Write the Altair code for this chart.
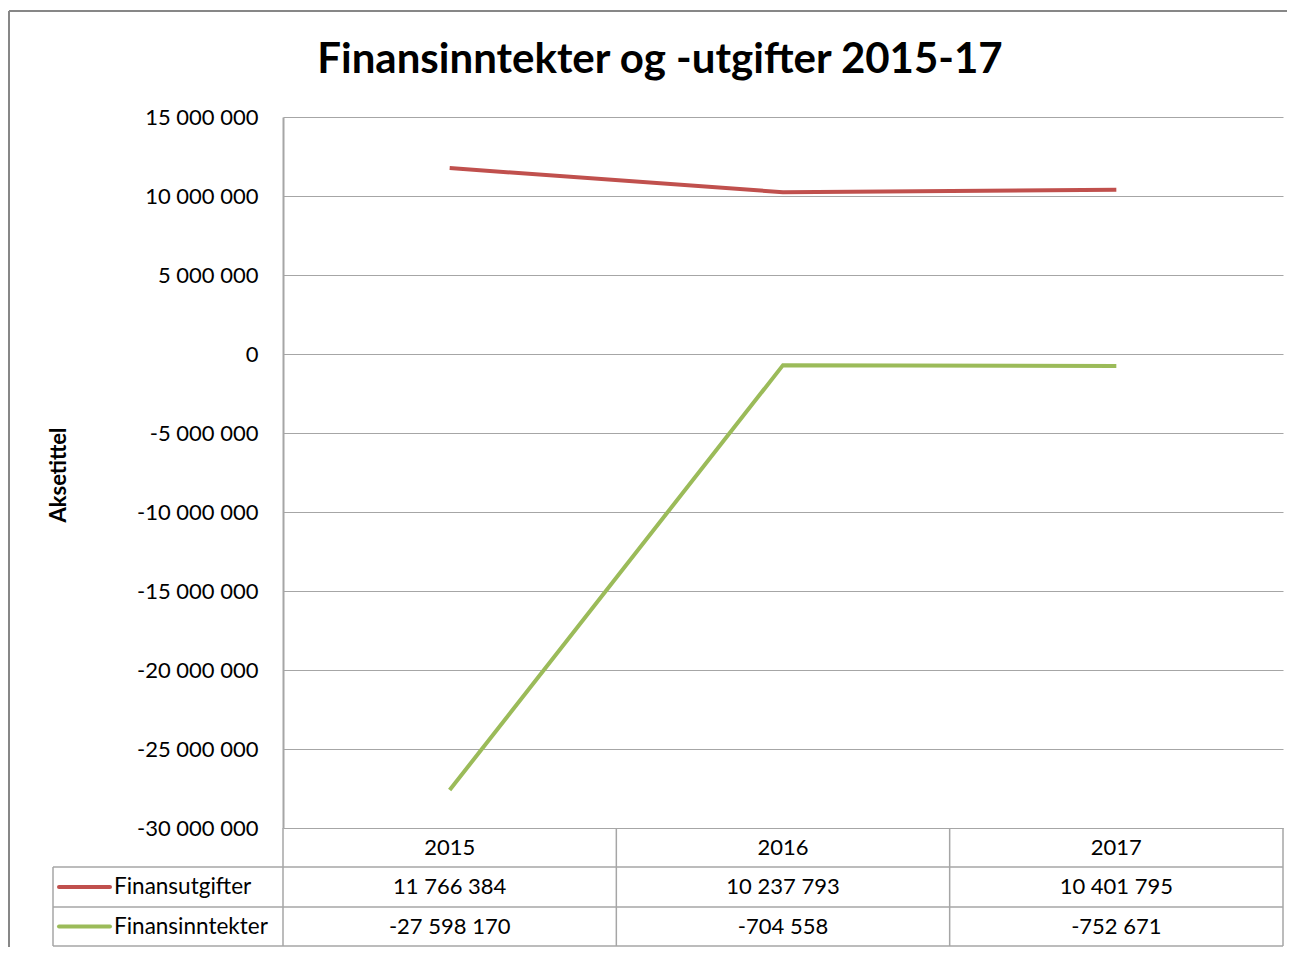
import altair as alt
import pandas as pd

# ---- data ----
years = ["2015", "2016", "2017"]
series_names = ["Finansutgifter", "Finansinntekter"]
finansutgifter = [11766384, 10237793, 10401795]
finansinntekter = [-27598170, -704558, -752671]
series_colors = ["#C0504D", "#9BBB59"]
y_ticks = [15000000, 10000000, 5000000, 0, -5000000, -10000000,
           -15000000, -20000000, -25000000, -30000000]
title_text = "Finansinntekter og -utgifter 2015-17"
axis_title = "Aksetittel"

# ---- layout ----
W, H = 1000, 711
FONT = "Lato"
GRID = "#a6a6a6"
ROW1, ROW2, ROW3 = H + 39, H + 79, H + 118   # table row boundaries
LEFT = -230                                  # left edge of table label column


def fmt(v):
    s = f"{abs(v):,}".replace(",", " ")
    return ("-" if v < 0 else "") + s


rows = []
for name, vals in zip(series_names, [finansutgifter, finansinntekter]):
    for yr, v in zip(years, vals):
        rows.append(dict(year=yr, series=name, value=v, label=fmt(v)))
df = pd.DataFrame(rows)
series_df = pd.DataFrame({"series": series_names})
years_df = pd.DataFrame({"year": years})
one = pd.DataFrame({"a": [0]})

x_scale = alt.Scale(type="point", domain=years, padding=0.5)
row_scale = alt.Scale(type="point", domain=series_names, padding=0,
                      range=[(ROW1 + ROW2) / 2, (ROW2 + ROW3) / 2])
color_scale = alt.Scale(domain=series_names, range=series_colors)

label_expr = "(datum.value < 0 ? '-' : '') + replace(format(abs(datum.value), ',d'), regexp(',', 'g'), ' ')"

lines = alt.Chart(df).mark_line(strokeWidth=4).encode(
    x=alt.X("year:N", scale=x_scale, axis=None),
    y=alt.Y("value:Q",
            scale=alt.Scale(domain=[-30000000, 15000000], nice=False, zero=False),
            axis=alt.Axis(values=y_ticks, labelExpr=label_expr, grid=True,
                          gridColor=GRID, gridWidth=1, domainColor=GRID, domainWidth=2,
                          ticks=False, labelPadding=25, labelFontSize=22,
                          labelFont=FONT, labelColor="black",
                          title=axis_title, titleFont=FONT, titleFontSize=22,
                          titleFontWeight="bold", titleColor="black",
                          titleX=-225, titleY=H / 2 + 2, titleAngle=270,
                          titleAlign="center", titleBaseline="middle")),
    color=alt.Color("series:N", scale=color_scale, legend=None),
)

table_vals = alt.Chart(df).mark_text(fontSize=22, font=FONT, color="black", baseline="middle").encode(
    x=alt.X("year:N", scale=x_scale, axis=None),
    y=alt.Y("series:N", scale=row_scale, axis=None),
    text="label:N",
)

year_hdr = alt.Chart(years_df).mark_text(fontSize=22, font=FONT, color="black", baseline="middle").encode(
    x=alt.X("year:N", scale=x_scale, axis=None),
    y=alt.value((H + ROW1) / 2),
    text="year:N",
)

swatches = alt.Chart(series_df).mark_rule(strokeWidth=4, strokeCap="round").encode(
    x=alt.value(LEFT + 6), x2=alt.value(LEFT + 57),
    y=alt.Y("series:N", scale=row_scale, axis=None),
    color=alt.Color("series:N", scale=color_scale, legend=None),
)

row_labels = alt.Chart(series_df).mark_text(fontSize=22.5, font=FONT, color="black",
                                            align="left", baseline="middle").encode(
    x=alt.value(LEFT + 61),
    y=alt.Y("series:N", scale=row_scale, axis=None),
    text="series:N",
)


def rule(x1, x2, y1, y2, color=GRID, width=1.5):
    return alt.Chart(one).mark_rule(color=color, strokeWidth=width).encode(
        x=alt.value(x1), x2=alt.value(x2), y=alt.value(y1), y2=alt.value(y2))


table_rules = [
    rule(LEFT, W, ROW1, ROW1),
    rule(LEFT, W, ROW2, ROW2),
    rule(LEFT, W, ROW3, ROW3),
    rule(LEFT, LEFT, ROW1, ROW3),
    rule(0, 0, H, ROW3),
    rule(W / 3, W / 3, H, ROW3),
    rule(2 * W / 3, 2 * W / 3, H, ROW3),
    rule(W, W, H, ROW3),
]

border = [
    rule(-274, W + 20, -106, -106, color="#878787", width=2),
    rule(-274, -274, -106, H + 140, color="#878787", width=2),
]

title = alt.Chart(pd.DataFrame({"t": [title_text]})).mark_text(
    fontSize=42, font=FONT, fontWeight="bold", color="black",
    align="center", baseline="middle").encode(
    x=alt.value(377), y=alt.value(-57), text="t:N")

chart = alt.layer(
    *border, lines, *table_rules, table_vals, year_hdr, swatches, row_labels, title
).resolve_scale(y="independent").properties(
    width=W, height=H,
    autosize=alt.AutoSizeParams(type="none"),
    padding={"left": 275, "top": 109, "right": 4, "bottom": 119},
).configure_view(stroke=None)

chart.save("out.html", embed_options={"renderer": "svg", "actions": False})
